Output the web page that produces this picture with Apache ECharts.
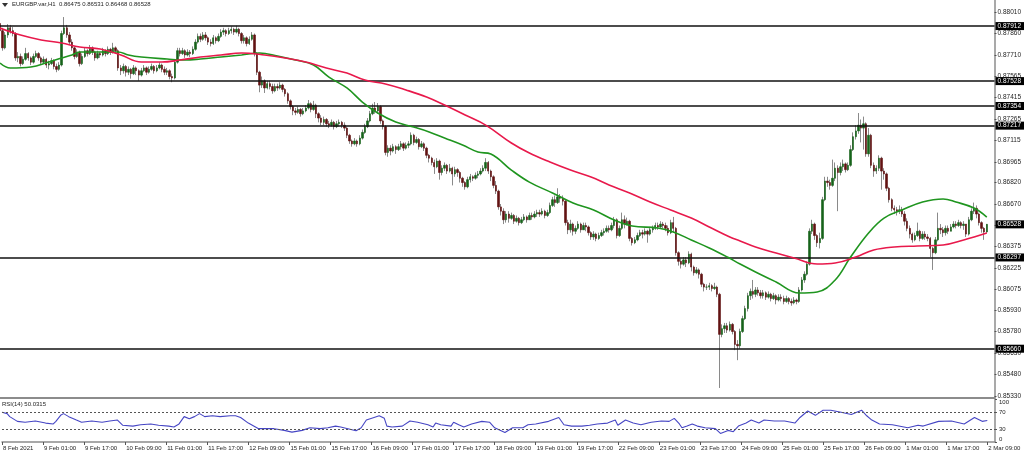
<!DOCTYPE html>
<html><head><meta charset="utf-8">
<script src="https://cdn.jsdelivr.net/npm/echarts@6/dist/echarts.min.js"></script>
<style>html,body{margin:0;padding:0;background:#fff}#c{width:1024px;height:455px}</style>
</head><body><div id="c"></div>
<script>
// Prices in units of 0.00001. Hourly FX bars: each bar opens at the previous close.
const firstOpen = 87930;
const closes = [
87880,87760,87850,87900,87880,87860,87690,87700,87650,87680,87720,87690,87660,87700,87720,87690,
87660,87680,87640,87650,87670,87630,87610,87640,87860,87900,87850,87800,87760,87700,87730,87650,
87700,87740,87720,87760,87730,87690,87720,87710,87740,87720,87750,87730,87760,87740,87620,87600,
87630,87590,87610,87580,87620,87600,87570,87600,87620,87590,87610,87630,87600,87620,87640,87610,
87590,87600,87560,87550,87660,87740,87720,87740,87710,87730,87720,87750,87800,87840,87820,87850,
87830,87800,87790,87830,87810,87840,87870,87880,87860,87880,87890,87870,87890,87860,87810,87830,
87790,87820,87850,87720,87590,87500,87530,87480,87510,87490,87460,87490,87480,87500,87470,87440,
87390,87350,87320,87310,87330,87300,87320,87340,87370,87330,87360,87300,87270,87240,87260,87230,
87220,87240,87210,87230,87240,87220,87200,87150,87110,87090,87110,87090,87130,87170,87210,87250,
87300,87340,87320,87350,87250,87210,87030,87060,87040,87070,87050,87070,87090,87060,87080,87090,
87150,87100,87120,87070,87090,87060,87010,86990,86960,86930,86970,86890,86920,86940,86900,86920,
86880,86910,86890,86850,86820,86790,86840,86860,86850,86870,86880,86900,86920,86960,86900,86860,
86800,86760,86650,86620,86560,86600,86570,86590,86550,86570,86540,86560,86580,86560,86590,86580,
86600,86610,86600,86620,86590,86610,86660,86700,86680,86720,86710,86690,86540,86490,86530,86480,
86500,86530,86490,86520,86510,86470,86440,86460,86430,86450,86470,86480,86500,86490,86520,86560,
86450,86500,86560,86530,86550,86430,86400,86420,86450,86470,86460,86480,86460,86490,86500,86520,
86510,86530,86520,86500,86470,86540,86500,86330,86270,86250,86280,86260,86320,86230,86190,86210,
86180,86110,86090,86090,86100,86080,86090,86040,85760,85800,85820,85790,85830,85780,85690,85680,
85780,85870,85940,86030,86060,86040,86070,86050,86030,86050,86020,86040,86010,86030,86000,86020,
86010,85990,86010,85990,85980,86000,85990,86070,86140,86180,86250,86480,86530,86450,86400,86430,
86700,86830,86820,86800,86850,86920,86890,86930,86950,86910,86940,87050,87140,87180,87220,87200,
87230,87020,87150,86940,86900,86920,86990,86900,86880,86780,86700,86640,86630,86620,86630,86600,
86550,86500,86460,86420,86450,86480,86430,86460,86440,86430,86360,86330,86420,86500,86490,86470,
86500,86480,86510,86530,86520,86540,86520,86530,86460,86560,86620,86640,86600,86540,86500,86475,
86528];
const highs = [
87950,87900,87870,87925,87920,87905,87870,87730,87720,87700,87760,87730,87700,87720,87740,87730,
87700,87700,87690,87670,87690,87680,87650,87660,87880,87975,87920,87870,87820,87770,87750,87740,
87720,87760,87750,87780,87770,87740,87740,87730,87760,87750,87770,87760,87795,87770,87750,87640,
87650,87640,87630,87620,87640,87630,87610,87620,87640,87630,87630,87650,87640,87640,87660,87650,
87630,87620,87610,87580,87680,87760,87760,87760,87750,87750,87745,87770,87820,87860,87860,87870,
87870,87840,87820,87850,87840,87860,87890,87900,87890,87900,87910,87900,87915,87900,87870,87850,
87840,87840,87870,87860,87730,87600,87560,87540,87530,87530,87510,87510,87510,87520,87510,87480,
87450,87400,87360,87340,87350,87340,87340,87360,87396,87380,87390,87370,87310,87290,87280,87270,
87250,87260,87250,87250,87260,87250,87240,87210,87160,87120,87130,87120,87150,87190,87230,87270,
87320,87370,87382,87375,87360,87260,87220,87080,87080,87090,87080,87090,87110,87100,87100,87110,
87170,87160,87140,87130,87110,87100,87070,87020,87000,86980,86990,86980,86940,86960,86950,86950,
86930,86930,86920,86900,86860,86830,86860,86880,86870,86890,86900,86920,86940,86990,86970,86910,
86870,86830,86770,86670,86640,86620,86620,86610,86600,86590,86580,86580,86600,86590,86610,86610,
86620,86630,86630,86640,86630,86630,86680,86720,86730,86780,86740,86730,86700,86560,86560,86540,
86520,86550,86540,86540,86540,86520,86480,86480,86470,86470,86490,86500,86520,86520,86540,86580,
86570,86520,86610,86590,86575,86560,86440,86440,86470,86490,86490,86500,86490,86510,86520,86540,
86540,86550,86545,86540,86520,86560,86580,86510,86340,86290,86300,86300,86340,86330,86240,86230,
86220,86190,86120,86110,86120,86110,86120,86100,86050,85830,85840,85840,85850,85840,85790,85720,
85800,85890,85960,86050,86080,86140,86090,86090,86070,86070,86060,86060,86050,86050,86040,86040,
86040,86030,86030,86020,86010,86020,86010,86090,86160,86200,86270,86500,86560,86540,86460,86470,
86720,86860,86860,86840,86980,86960,86940,86960,86980,86960,86960,87080,87170,87220,87305,87260,
87280,87240,87200,87160,86960,86940,87010,87000,86920,86890,86790,86710,86660,86650,86660,86650,
86620,86570,86520,86470,86470,86540,86490,86480,86480,86460,86440,86370,86440,86610,86530,86510,
86520,86520,86530,86550,86550,86560,86550,86550,86530,86580,86640,86680,86660,86610,86550,86510,
86531];
const lows = [
87860,87740,87750,87830,87860,87840,87670,87660,87630,87640,87670,87670,87640,87650,87690,87670,
87640,87650,87620,87610,87640,87610,87590,87600,87630,87850,87830,87780,87740,87680,87690,87630,
87640,87690,87700,87710,87710,87670,87680,87690,87700,87700,87710,87710,87720,87720,87600,87570,
87580,87560,87570,87545,87570,87570,87530,87560,87590,87570,87580,87600,87580,87590,87610,87590,
87570,87570,87540,87520,87540,87650,87700,87710,87690,87700,87695,87710,87740,87790,87800,87810,
87810,87780,87770,87780,87790,87800,87830,87850,87840,87850,87860,87850,87860,87840,87790,87790,
87770,87780,87810,87700,87570,87450,87480,87445,87470,87470,87440,87450,87460,87470,87450,87420,
87370,87330,87290,87290,87300,87280,87290,87310,87330,87310,87320,87270,87240,87220,87220,87210,
87200,87210,87190,87200,87210,87200,87180,87130,87090,87070,87080,87070,87080,87120,87160,87200,
87240,87290,87300,87300,87230,87190,87010,87000,87010,87030,87020,87040,87050,87040,87050,87060,
87080,87080,87090,87050,87060,87040,86990,86960,86940,86880,86920,86840,86870,86900,86880,86890,
86800,86860,86860,86820,86790,86770,86780,86820,86830,86840,86850,86870,86890,86900,86880,86830,
86780,86740,86630,86590,86530,86540,86540,86560,86530,86540,86520,86530,86550,86540,86560,86560,
86570,86580,86580,86590,86570,86580,86600,86650,86650,86670,86680,86660,86520,86460,86470,86450,
86460,86490,86470,86490,86480,86450,86420,86420,86410,86420,86440,86450,86470,86470,86480,86500,
86430,86440,86490,86500,86520,86410,86380,86390,86410,86440,86430,86450,86400,86450,86470,86490,
86490,86500,86500,86480,86450,86460,86470,86310,86240,86220,86240,86230,86250,86200,86170,86180,
86150,86090,86060,86070,86070,86060,86070,86020,85386,85740,85770,85770,85780,85760,85650,85580,
85660,85770,85860,85920,86000,86010,86020,86030,86010,86010,86000,86010,85990,86000,85970,85990,
85990,85970,85980,85970,85960,85970,85970,85980,86060,86120,86170,86240,86460,86420,86370,86360,
86420,86690,86790,86770,86790,86830,86620,86870,86900,86890,86900,86930,87040,87120,87160,87100,
87050,87000,87000,86920,86860,86880,86900,86770,86840,86760,86680,86620,86600,86590,86600,86580,
86520,86480,86430,86400,86410,86440,86410,86420,86420,86410,86300,86210,86320,86410,86460,86440,
86450,86460,86480,86500,86500,86510,86500,86490,86440,86450,86550,86600,86570,86520,86470,86420,
86468];

// Moving averages: [bar index, price*1e5]
const greenMA = [[0,87654],[4,87619],[12,87626],[19,87661],[24,87689],[28,87710],[31,87731],[39,87731],[46,87731],[50,87710],[55,87696],[65,87682],[72,87675],[78,87682],[86,87696],[94,87710],[101,87724],[108,87703],[115,87675],[122,87640],[128,87556],[135,87480],[141,87382],[147,87305],[154,87242],[161,87207],[167,87173],[173,87131],[180,87082],[186,87033],[191,87019],[199,86907],[206,86823],[215,86747],[223,86677],[231,86628],[239,86558],[246,86517],[256,86503],[262,86475],[269,86419],[276,86363],[283,86300],[288,86251],[294,86196],[302,86126],[311,86049],[318,86056],[325,86140],[331,86300],[338,86468],[344,86572],[351,86628],[359,86684],[367,86705],[372,86684],[379,86642],[384,86579]];
const redMA = [[0,87898],[8,87849],[16,87815],[24,87794],[31,87766],[39,87752],[47,87710],[55,87661],[63,87661],[70,87675],[78,87696],[86,87710],[94,87724],[103,87710],[111,87689],[119,87661],[127,87619],[135,87584],[142,87535],[150,87508],[158,87466],[166,87417],[173,87361],[181,87291],[189,87221],[199,87096],[206,87026],[214,86963],[222,86907],[230,86858],[237,86803],[245,86747],[253,86684],[261,86628],[269,86572],[276,86510],[284,86440],[288,86412],[294,86370],[302,86328],[309,86293],[318,86251],[325,86258],[333,86300],[340,86349],[348,86370],[357,86377],[367,86384],[375,86419],[384,86468]];
// RSI(14): [bar index, value]
const rsiPts = [[0,69],[2,66],[3,59],[6,48],[9,46],[13,49],[17,44],[20,42],[21,48],[23,63],[24,66],[26,59],[29,51],[31,46],[35,49],[39,46],[42,49],[45,51],[47,39],[51,37],[54,40],[58,42],[61,39],[65,37],[67,35],[69,42],[71,59],[73,54],[75,59],[77,66],[79,59],[82,61],[85,59],[89,61],[91,61],[93,57],[96,44],[100,31],[103,31],[106,31],[110,27],[113,23],[117,27],[120,33],[124,31],[127,33],[130,37],[132,35],[136,29],[138,26],[140,33],[142,51],[145,57],[147,61],[149,55],[150,37],[152,35],[156,37],[159,49],[162,46],[166,40],[168,35],[169,44],[171,40],[175,37],[176,46],[178,40],[180,35],[183,42],[187,48],[190,46],[192,33],[196,22],[199,33],[203,33],[205,40],[208,42],[213,48],[217,57],[219,40],[222,37],[226,37],[229,39],[232,42],[236,44],[239,51],[240,39],[243,51],[246,44],[249,40],[253,46],[257,49],[260,48],[262,55],[264,42],[265,33],[267,37],[269,42],[271,37],[274,33],[278,31],[280,20],[283,27],[285,24],[287,37],[290,44],[292,51],[295,44],[297,51],[301,49],[305,49],[309,44],[311,57],[314,72],[317,62],[320,74],[323,74],[327,69],[331,64],[335,74],[337,61],[339,51],[342,42],[347,40],[353,33],[357,39],[359,37],[365,48],[370,49],[375,42],[379,57],[382,48],[384,50]];

const levels = [0.87912, 0.87528, 0.87354, 0.87217, 0.86297, 0.85660];
const lastPrice = 0.86528;
const priceTicks = [0.88010,0.87860,0.87710,0.87565,0.87415,0.87265,0.87115,0.86965,0.86820,0.86670,0.86525,0.86375,0.86225,0.86075,0.85930,0.85780,0.85630,0.85480,0.85330];
const rsiTicks = [0, 30, 70, 100];
const rsiLevels = [30, 70];
const headerText = 'EURGBP.var,H1  0.86475 0.86531 0.86468 0.86528';
const rsiText = 'RSI(14) 50.0315';

const MON = ['Jan','Feb','Mar','Apr','May','Jun','Jul','Aug','Sep','Oct','Nov','Dec'];
function buildCats(n) {
  const out = [];
  let t = Date.UTC(2021, 1, 8, 9);
  while (out.length < n) {
    const d = new Date(t), wd = d.getUTCDay();
    if (wd !== 0 && wd !== 6) {
      const hh = String(d.getUTCHours()).padStart(2, '0');
      out.push(out.length === 0 ? d.getUTCDate() + ' ' + MON[d.getUTCMonth()] + ' ' + d.getUTCFullYear()
                                : d.getUTCDate() + ' ' + MON[d.getUTCMonth()] + ' ' + hh + ':00');
    }
    t += 3600e3;
  }
  return out;
}
const N = closes.length;
const cats = buildCats(N).concat(['', '', '']);
const S = 1e5;
const opens = closes.map((c, i) => i === 0 ? firstOpen : closes[i - 1]);
const full = closes.map((c, i) => [opens[i] / S, c / S, lows[i] / S, highs[i] / S]);
const bodies = closes.map((c, i) => { const o = opens[i] / S, cl = c / S; return [o, cl, Math.min(o, cl), Math.max(o, cl)]; });
const FONT = 'Liberation Sans';
const TXT = '#1e1e1e';
const labelEvery = (i) => i % 16 === 0 && i < N;

const chart = echarts.init(document.getElementById('c'), null, { renderer: 'canvas' });
chart.setOption({
  animation: false,
  backgroundColor: '#ffffff',
  grid: [
    { left: -1, top: 0, width: 996, height: 398 },
    { left: -1, top: 399, width: 996, height: 43 }
  ],
  xAxis: [
    { type: 'category', gridIndex: 0, data: cats, boundaryGap: false,
      axisLine: { show: true, lineStyle: { color: '#8c8c8c', width: 2 } },
      axisTick: { show: false }, axisLabel: { show: false }, splitLine: { show: false } },
    { type: 'category', gridIndex: 1, data: cats, boundaryGap: false,
      axisLine: { show: true, lineStyle: { color: '#8c8c8c', width: 1.5 } },
      axisTick: { show: true, interval: labelEvery, length: 3, lineStyle: { color: '#555' } },
      axisLabel: { show: true, interval: labelEvery, align: 'left', padding: [0, 0, 0, 1], margin: 3,
                   fontSize: 6, fontFamily: FONT, color: TXT },
      splitLine: { show: false } }
  ],
  yAxis: [
    { type: 'value', gridIndex: 0, position: 'right', min: 0.85316, max: 0.88094, scale: true,
      splitLine: { show: false },
      axisLine: { show: true, lineStyle: { color: '#8c8c8c', width: 1.5 } },
      axisTick: { show: true, customValues: priceTicks, length: 2, lineStyle: { color: '#555' } },
      axisLabel: { customValues: priceTicks, formatter: v => v.toFixed(5), margin: 3,
                   fontSize: 6.5, fontFamily: FONT, color: TXT } },
    { type: 'value', gridIndex: 1, position: 'right', min: 0, max: 100,
      splitLine: { show: false },
      axisLine: { show: true, lineStyle: { color: '#8c8c8c', width: 1.5 } },
      axisTick: { show: true, customValues: rsiTicks, length: 2, lineStyle: { color: '#555' } },
      axisLabel: { customValues: rsiTicks, margin: 4, fontSize: 6, fontFamily: FONT, color: TXT,
                   verticalAlignMinLabel: 'bottom', verticalAlignMaxLabel: 'top' } }
  ],
  series: [
    { name: 'wicks', type: 'candlestick', xAxisIndex: 0, yAxisIndex: 0, data: full, barWidth: 1,
      itemStyle: { color: '#8a8a8a', color0: '#8a8a8a', borderColor: '#8a8a8a', borderColor0: '#8a8a8a', borderWidth: 1 } },
    { name: 'bodies', type: 'candlestick', xAxisIndex: 0, yAxisIndex: 0, data: bodies, barWidth: 1.9,
      itemStyle: { color: '#16631a', color0: '#621212', borderColor: '#16631a', borderColor0: '#621212', borderWidth: 0.6 },
      markLine: {
        silent: true, symbol: ['none', 'none'], animation: false, precision: 5,
        data: levels.map(v => ({ yAxis: v, lineStyle: { color: '#111', width: 1.5, type: 'solid' } }))
          .concat([{ yAxis: lastPrice, lineStyle: { color: 'rgba(0,0,0,0)', width: 0 } }]),
        label: { show: true, position: 'end', distance: 1, formatter: p => Number(p.value).toFixed(5),
                 backgroundColor: '#000', color: '#fff', fontSize: 6.5, fontFamily: FONT, padding: [1, 3, 0, 2] }
      } },
    { name: 'green', type: 'line', xAxisIndex: 0, yAxisIndex: 0, data: greenMA.map(p => [p[0], p[1] / S]),
      smooth: 0.4, showSymbol: false, lineStyle: { color: '#1f951f', width: 1.6 }, z: 5 },
    { name: 'red', type: 'line', xAxisIndex: 0, yAxisIndex: 0, data: redMA.map(p => [p[0], p[1] / S]),
      smooth: 0.4, showSymbol: false, lineStyle: { color: '#e8194b', width: 1.6 }, z: 5 },
    { name: 'rsi', type: 'line', xAxisIndex: 1, yAxisIndex: 1, data: rsiPts,
      showSymbol: false, lineStyle: { color: '#4646c4', width: 1.1 },
      markLine: { silent: true, symbol: ['none', 'none'], animation: false, label: { show: false },
        data: rsiLevels.map(v => ({ yAxis: v })), lineStyle: { color: '#555', width: 1, type: [2, 2] } } }
  ],
  graphic: [
    { type: 'polygon', shape: { points: [[2, 3], [8, 3], [5, 7]] }, style: { fill: '#333' } },
    { type: 'text', left: 12, top: 1, style: { text: headerText, fontSize: 6, fontFamily: FONT, fill: TXT } },
    { type: 'text', left: 2, top: 401, style: { text: rsiText, fontSize: 6, fontFamily: FONT, fill: TXT } }
  ]
});
</script></body></html>
